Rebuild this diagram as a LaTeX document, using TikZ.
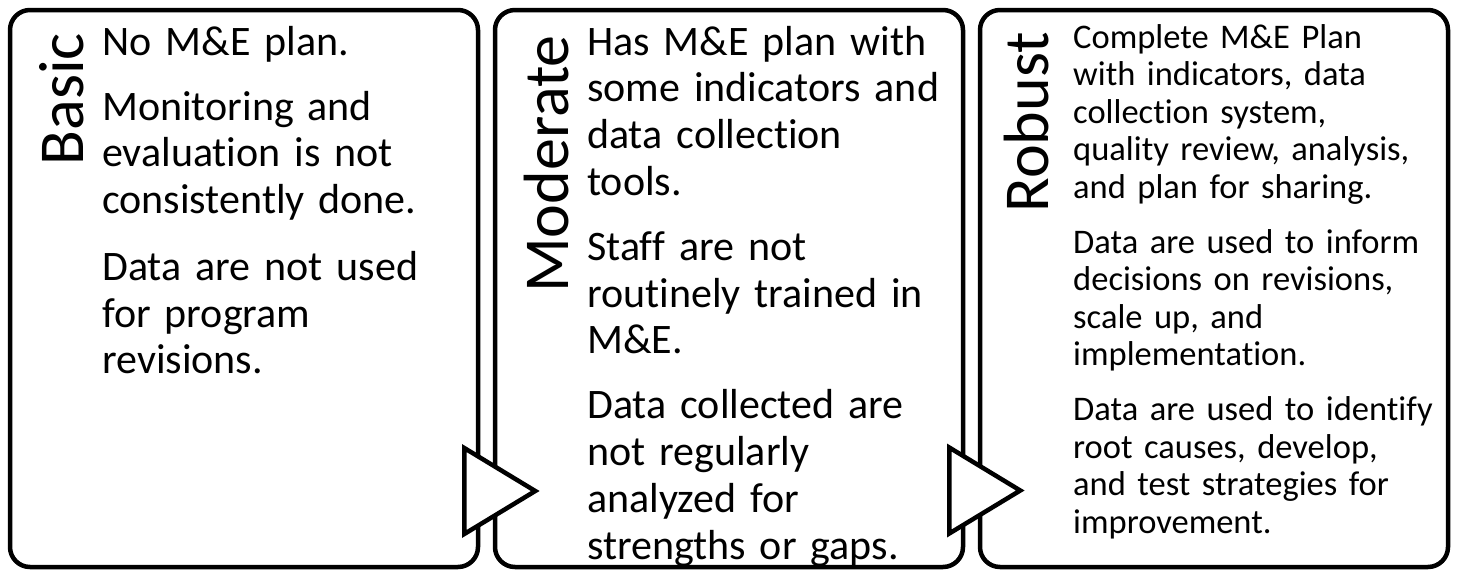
\documentclass[tikz,border=0pt]{standalone}
\usepackage{fontspec}
\setmainfont{Carlito}[Ligatures={NoCommon,NoRequired,NoContextual},Contextuals=NoAlternate]
\usetikzlibrary{positioning,calc}

\tikzset{
  stagebox/.style={draw, line width=4.5pt, rounded corners=20pt, minimum width=468pt, minimum height=557pt, inner sep=0pt},
  stagetitle/.style={rotate=90, anchor=base east, inner sep=0pt, font=\fontsize{64}{70}\selectfont},
  stagetext/.style={anchor=base west, inner sep=0pt, text width=370pt, align=left, font=\fontsize{42}{46.7}\selectfont},
  smalltext/.style={stagetext, font=\fontsize{34.5}{37.6}\selectfont},
  stagearrow/.style={draw, fill=white, line width=4.5pt}
}

\begin{document}
\begin{tikzpicture}[x=1pt,y=-1pt]
  \useasboundingbox (0,0) rectangle (1457,571);
  % the three stages
  \node[stagebox] (basic) at (244,288.5) {};
  \node[stagebox] (moderate) at (729,288.5) {};
  \node[stagebox] (robust) at (1214,288.5) {};

  \node[stagetitle] (basicT) at (83,33) {Basic};
  \node[stagetitle] (moderateT) at (568,35) {Moderate};
  \node[stagetitle] (robustT) at (1048,32) {Robust};

  \node[stagetext] (basicX) at (102,55) {No M\&E plan.\\[18.5pt]
    Monitoring and\\ evaluation is not\\ consistently done.\\[20pt]
    Data are not used\\ for program\\ revisions.};
  \node[stagetext] (moderateX) at (587,55) {Has M\&E plan with\\ some indicators and\\ data collection\\ tools.\\[18.5pt]
    Staff are not\\ routinely trained in\\ M\&E.\\[18.5pt]
    Data collected are\\ not regularly\\ analyzed for\\ strengths or gaps.};
  \node[smalltext] (robustX) at (1073,48) {Complete M\&E Plan\\ with indicators, data\\ collection system,\\ quality review, analysis,\\ and plan for sharing.\\[17pt]
    Data are used to inform\\ decisions on revisions,\\ scale up, and\\ implementation.\\[17pt]
    Data are used to identify\\ root causes, develop,\\ and test strategies for\\ improvement.};

  % arrows between stages
  \coordinate (arrA) at ($(basic.east)+(-16,202.5)$);
  \coordinate (arrB) at ($(moderate.east)+(-16,202)$);
  \draw[stagearrow] (arrA) ++(0,-43) -- ++(71,43) -- ++(-71,43) -- cycle;
  \draw[stagearrow] (arrB) ++(0,-43) -- ++(71,43) -- ++(-71,43) -- cycle;
\end{tikzpicture}
\end{document}
